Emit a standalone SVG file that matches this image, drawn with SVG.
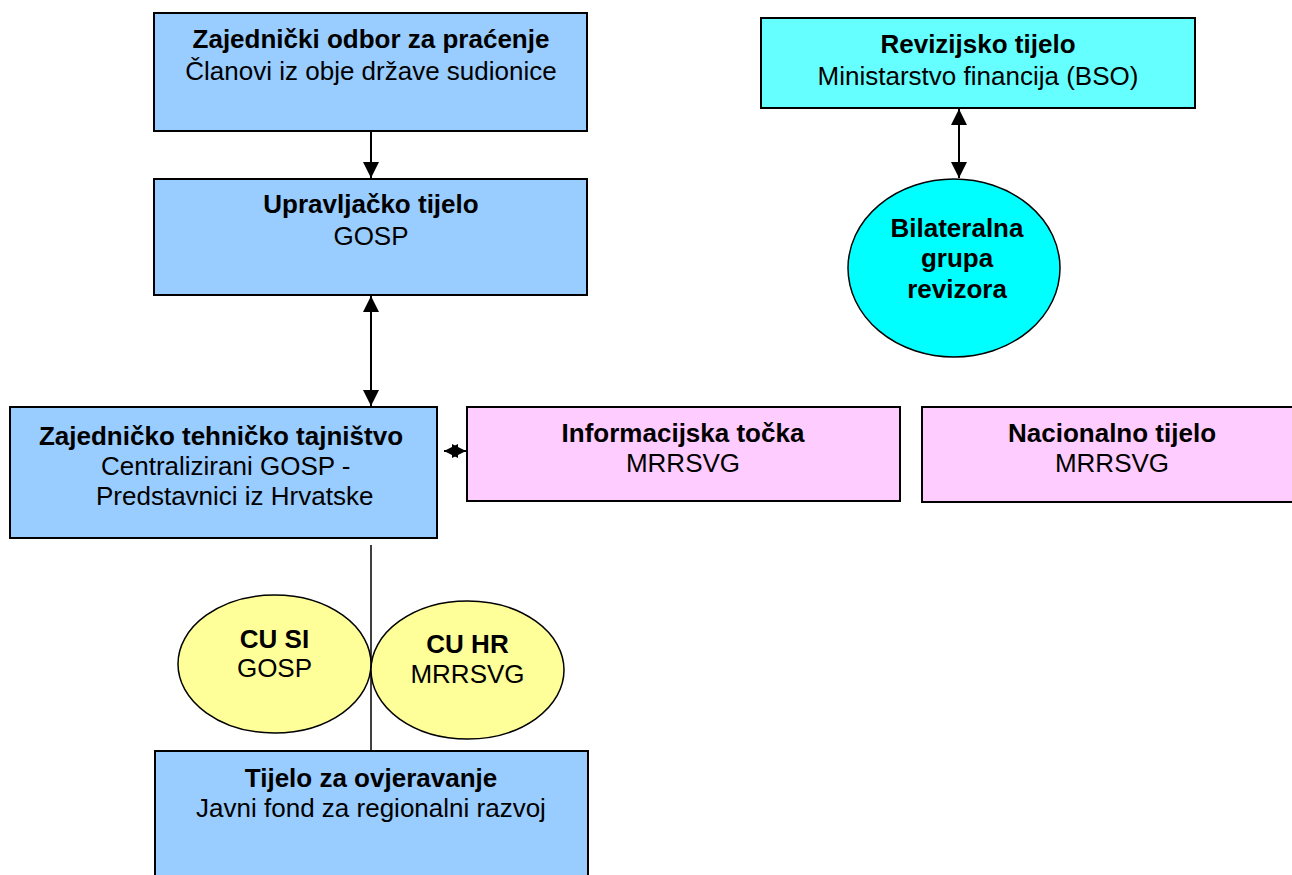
<svg xmlns="http://www.w3.org/2000/svg" width="1292" height="875" viewBox="0 0 1292 875">
<style>
text{font-family:"Liberation Sans",Arial,sans-serif;font-size:26px;fill:#000;text-anchor:middle}
.b{font-weight:bold}
.l{text-anchor:start}
.box{stroke:#000;stroke-width:2}
.blue{fill:#99CCFF}
.pink{fill:#FFCCFF}
.ell{stroke:#000;stroke-width:1.5}
.con{stroke:#000;stroke-width:2;fill:none}
</style>
<defs>
<marker id="ah" viewBox="0 0 16 16" refX="16" refY="8" markerWidth="16" markerHeight="16" markerUnits="userSpaceOnUse" orient="auto-start-reverse">
<path d="M0,0 L16,8 L0,16 Z" fill="#000"/>
</marker>
<marker id="sh" viewBox="0 0 14 14" refX="14" refY="7" markerWidth="14" markerHeight="14" markerUnits="userSpaceOnUse" orient="auto-start-reverse">
<path d="M0,0 L14,7 L0,14 Z" fill="#000"/>
</marker>
</defs>
<g id="connectors">
<line class="con" x1="371" y1="131" x2="371" y2="178" marker-end="url(#ah)"/>
<line class="con" x1="371" y1="296" x2="371" y2="406" marker-start="url(#ah)" marker-end="url(#ah)"/>
<line class="con" x1="959" y1="109" x2="959" y2="178" marker-start="url(#ah)" marker-end="url(#ah)"/>
<line class="con" x1="444" y1="451" x2="466" y2="451" marker-start="url(#sh)" marker-end="url(#sh)"/>
<line stroke="#000" stroke-width="1.5" x1="371" y1="545" x2="371" y2="751"/>
</g>
<g id="zajednicki-odbor">
<rect class="box blue" x="154" y="13" width="433" height="118"/>
<text class="b" x="371" y="48">Zajednički odbor za praćenje</text>
<text x="371" y="80">Članovi iz obje države sudionice</text>
</g>
<g id="upravljacko-tijelo">
<rect class="box blue" x="154" y="179" width="433" height="116"/>
<text class="b" x="371" y="213">Upravljačko tijelo</text>
<text x="371" y="245">GOSP</text>
</g>
<g id="revizijsko-tijelo">
<rect class="box" fill="#66FFFF" x="761" y="18" width="434" height="90"/>
<text class="b" x="978" y="53">Revizijsko tijelo</text>
<text x="978" y="85">Ministarstvo financija (BSO)</text>
</g>
<g id="bilateralna-grupa">
<ellipse class="ell" fill="#00FFFF" cx="954" cy="268" rx="106" ry="89"/>
<text class="b" x="957" y="237">Bilateralna</text>
<text class="b" x="957" y="267">grupa</text>
<text class="b" x="957" y="298">revizora</text>
</g>
<g id="zajednicko-tehnicko-tajnistvo">
<rect class="box blue" x="10" y="407" width="427" height="131"/>
<text class="b" x="221" y="445">Zajedničko tehničko tajništvo</text>
<text class="l" x="101" y="475">Centralizirani GOSP -</text>
<text class="l" x="96" y="505">Predstavnici iz Hrvatske</text>
</g>
<g id="informacijska-tocka">
<rect class="box pink" x="467" y="407" width="433" height="94"/>
<text class="b" x="683" y="442">Informacijska točka</text>
<text x="683" y="472">MRRSVG</text>
</g>
<g id="nacionalno-tijelo">
<rect class="box pink" x="922" y="407" width="380" height="95"/>
<text class="b" x="1112" y="442">Nacionalno tijelo</text>
<text x="1112" y="472">MRRSVG</text>
</g>
<g id="cu-si">
<ellipse class="ell" fill="#FFFF99" cx="274.5" cy="664" rx="96.5" ry="69"/>
<text class="b" x="274.5" y="648">CU SI</text>
<text x="274.5" y="677">GOSP</text>
</g>
<g id="cu-hr">
<ellipse class="ell" fill="#FFFF99" cx="467.5" cy="670" rx="96.5" ry="69"/>
<text class="b" x="467.5" y="653">CU HR</text>
<text x="467.5" y="683">MRRSVG</text>
</g>
<g id="tijelo-za-ovjeravanje">
<rect class="box blue" x="155" y="751" width="433" height="130"/>
<text class="b" x="371" y="787">Tijelo za ovjeravanje</text>
<text x="371" y="817">Javni fond za regionalni razvoj</text>
</g>
</svg>
